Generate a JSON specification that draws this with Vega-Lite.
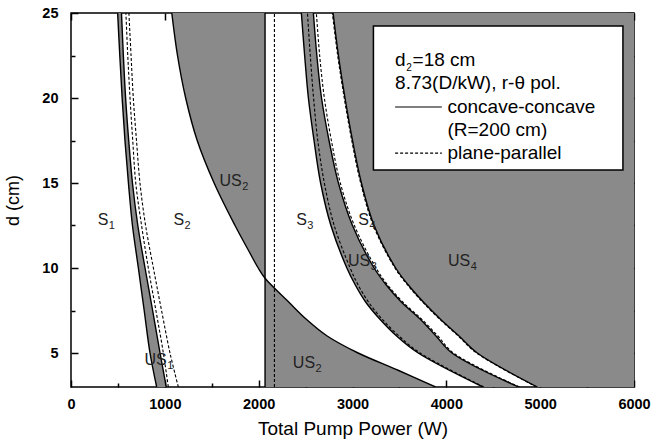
{
  "$schema": "https://vega.github.io/schema/vega-lite/v6.json",
  "width": 563,
  "height": 374,
  "autosize": {"type": "none"},
  "padding": {"left": 71, "top": 13, "right": 30, "bottom": 57},
  "background": "white",
  "config": {
    "view": {"stroke": "black", "strokeWidth": 1.5},
    "font": "Liberation Sans",
    "axis": {"grid": false}
  },
  "datasets": {
    "bands": [
      {"band": "US1", "y": 25, "xl": 497, "xr": 538},
      {"band": "US1", "y": 22.5, "xl": 520, "xr": 558},
      {"band": "US1", "y": 20, "xl": 545, "xr": 582},
      {"band": "US1", "y": 17.5, "xl": 575, "xr": 615},
      {"band": "US1", "y": 15, "xl": 612, "xr": 655},
      {"band": "US1", "y": 12.5, "xl": 655, "xr": 712},
      {"band": "US1", "y": 10, "xl": 718, "xr": 789},
      {"band": "US1", "y": 7.5, "xl": 780, "xr": 870},
      {"band": "US1", "y": 5, "xl": 842, "xr": 949},
      {"band": "US1", "y": 3, "xl": 913, "xr": 1015},
      {"band": "US2", "y": 25, "xl": 1074, "xr": 2068},
      {"band": "US2", "y": 22.5, "xl": 1135, "xr": 2068},
      {"band": "US2", "y": 20, "xl": 1222, "xr": 2068},
      {"band": "US2", "y": 17.5, "xl": 1345, "xr": 2068},
      {"band": "US2", "y": 15, "xl": 1525, "xr": 2068},
      {"band": "US2", "y": 12.5, "xl": 1748, "xr": 2068},
      {"band": "US2", "y": 11, "xl": 1895, "xr": 2068},
      {"band": "US2", "y": 10, "xl": 1995, "xr": 2068},
      {"band": "US2", "y": 9.4, "xl": 2068, "xr": 2068},
      {"band": "US2", "y": 8, "xl": 2320, "xr": 2068},
      {"band": "US2", "y": 7, "xl": 2505, "xr": 2068},
      {"band": "US2", "y": 6, "xl": 2730, "xr": 2068},
      {"band": "US2", "y": 5, "xl": 3060, "xr": 2068},
      {"band": "US2", "y": 4, "xl": 3480, "xr": 2068},
      {"band": "US2", "y": 3, "xl": 3885, "xr": 2068},
      {"band": "US3", "y": 25, "xl": 2455, "xr": 2583},
      {"band": "US3", "y": 22.5, "xl": 2490, "xr": 2620},
      {"band": "US3", "y": 20, "xl": 2530, "xr": 2670},
      {"band": "US3", "y": 17.5, "xl": 2590, "xr": 2750},
      {"band": "US3", "y": 15, "xl": 2660, "xr": 2850},
      {"band": "US3", "y": 12.5, "xl": 2770, "xr": 3000},
      {"band": "US3", "y": 10, "xl": 2940, "xr": 3230},
      {"band": "US3", "y": 9, "xl": 3030, "xr": 3360},
      {"band": "US3", "y": 8, "xl": 3140, "xr": 3520},
      {"band": "US3", "y": 7, "xl": 3290, "xr": 3720},
      {"band": "US3", "y": 6, "xl": 3470, "xr": 3890},
      {"band": "US3", "y": 5, "xl": 3700, "xr": 4060},
      {"band": "US3", "y": 3, "xl": 4390, "xr": 4770},
      {"band": "US4", "y": 25, "xl": 2793, "xr": 6000},
      {"band": "US4", "y": 22.5, "xl": 2850, "xr": 6000},
      {"band": "US4", "y": 20, "xl": 2920, "xr": 6000},
      {"band": "US4", "y": 17.5, "xl": 3000, "xr": 6000},
      {"band": "US4", "y": 15, "xl": 3095, "xr": 6000},
      {"band": "US4", "y": 12.5, "xl": 3230, "xr": 6000},
      {"band": "US4", "y": 10, "xl": 3460, "xr": 6000},
      {"band": "US4", "y": 9, "xl": 3595, "xr": 6000},
      {"band": "US4", "y": 8, "xl": 3755, "xr": 6000},
      {"band": "US4", "y": 7, "xl": 3935, "xr": 6000},
      {"band": "US4", "y": 6, "xl": 4135, "xr": 6000},
      {"band": "US4", "y": 5, "xl": 4330, "xr": 6000},
      {"band": "US4", "y": 3, "xl": 4970, "xr": 6000}
    ],
    "dashed": [
      {"c": "PA", "y": 25, "x": 585}, {"c": "PA", "y": 22.5, "x": 605}, {"c": "PA", "y": 20, "x": 629},
      {"c": "PA", "y": 17.5, "x": 658}, {"c": "PA", "y": 15, "x": 690}, {"c": "PA", "y": 12.5, "x": 752},
      {"c": "PA", "y": 10, "x": 824}, {"c": "PA", "y": 7.5, "x": 905}, {"c": "PA", "y": 5, "x": 984},
      {"c": "PA", "y": 3, "x": 1037},
      {"c": "PB", "y": 25, "x": 617}, {"c": "PB", "y": 22.5, "x": 640}, {"c": "PB", "y": 20, "x": 664},
      {"c": "PB", "y": 17.5, "x": 698}, {"c": "PB", "y": 15, "x": 735}, {"c": "PB", "y": 12.5, "x": 795},
      {"c": "PB", "y": 10, "x": 878}, {"c": "PB", "y": 7.5, "x": 965}, {"c": "PB", "y": 5, "x": 1055},
      {"c": "PB", "y": 3, "x": 1144},
      {"c": "PV", "y": 25, "x": 2168}, {"c": "PV", "y": 3, "x": 2168},
      {"c": "PL3", "y": 25, "x": 2520}, {"c": "PL3", "y": 22.5, "x": 2550}, {"c": "PL3", "y": 20, "x": 2585},
      {"c": "PL3", "y": 17.5, "x": 2630}, {"c": "PL3", "y": 15, "x": 2700}, {"c": "PL3", "y": 12.5, "x": 2805},
      {"c": "PL3", "y": 10, "x": 2975}, {"c": "PL3", "y": 9, "x": 3060}, {"c": "PL3", "y": 8, "x": 3170},
      {"c": "PL3", "y": 7, "x": 3315}, {"c": "PL3", "y": 6, "x": 3495}, {"c": "PL3", "y": 5, "x": 3720},
      {"c": "PL3", "y": 3, "x": 4400},
      {"c": "PR3", "y": 25, "x": 2615}, {"c": "PR3", "y": 22.5, "x": 2650}, {"c": "PR3", "y": 20, "x": 2700},
      {"c": "PR3", "y": 17.5, "x": 2775}, {"c": "PR3", "y": 15, "x": 2870}, {"c": "PR3", "y": 12.5, "x": 3020},
      {"c": "PR3", "y": 10, "x": 3250}, {"c": "PR3", "y": 9, "x": 3375}, {"c": "PR3", "y": 8, "x": 3535},
      {"c": "PR3", "y": 7, "x": 3735}, {"c": "PR3", "y": 6, "x": 3910}, {"c": "PR3", "y": 5, "x": 4075},
      {"c": "PR3", "y": 3, "x": 4780},
      {"c": "PE4", "y": 25, "x": 2785}, {"c": "PE4", "y": 22.5, "x": 2842}, {"c": "PE4", "y": 20, "x": 2912},
      {"c": "PE4", "y": 17.5, "x": 2992}, {"c": "PE4", "y": 15, "x": 3087}, {"c": "PE4", "y": 12.5, "x": 3222},
      {"c": "PE4", "y": 10, "x": 3452}, {"c": "PE4", "y": 9, "x": 3587}, {"c": "PE4", "y": 8, "x": 3747},
      {"c": "PE4", "y": 7, "x": 3927}, {"c": "PE4", "y": 6, "x": 4127}, {"c": "PE4", "y": 5, "x": 4322},
      {"c": "PE4", "y": 3, "x": 4962}
    ],
    "regions": [
      {"main": "S", "sub": "1", "x": 398, "y": 12.85},
      {"main": "S", "sub": "2", "x": 1205, "y": 12.85},
      {"main": "S", "sub": "3", "x": 2513, "y": 12.85},
      {"main": "S", "sub": "4", "x": 3175, "y": 12.85},
      {"main": "US", "sub": "2", "x": 1820, "y": 15.1},
      {"main": "US", "sub": "3", "x": 3188, "y": 10.4},
      {"main": "US", "sub": "4", "x": 4254, "y": 10.4},
      {"main": "US", "sub": "1", "x": 1020, "y": 4.6},
      {"main": "US", "sub": "2", "x": 2601, "y": 4.4}
    ]
  },
  "resolve": {"axis": {"x": "independent", "y": "independent"}},
  "layer": [
    {
      "data": {"name": "bands"},
      "mark": {"type": "area", "orient": "horizontal", "color": "#8a8a8a", "opacity": 1, "clip": true, "interpolate": "catmull-rom"},
      "encoding": {
        "y": {"field": "y", "type": "quantitative", "scale": {"domain": [3, 25], "nice": false, "zero": false},
          "axis": {"orient": "left", "values": [5, 10, 15, 20, 25], "ticks": false, "tickSize": 0, "domain": false,
            "labelFontSize": 14.5, "labelFontWeight": "bold", "labelColor": "black", "labelPadding": 13,
            "title": "d (cm)", "titleFontSize": 18, "titleFontWeight": "normal", "titleColor": "black", "titlePadding": 19}},
        "x": {"field": "xl", "type": "quantitative", "scale": {"domain": [0, 6000], "nice": false, "zero": false},
          "axis": {"orient": "bottom", "values": [0, 1000, 2000, 3000, 4000, 5000, 6000], "format": "d", "ticks": false, "tickSize": 0, "domain": false,
            "labelFontSize": 14.5, "labelFontWeight": "bold", "labelColor": "black", "labelPadding": 10, "labelFlush": false,
            "title": "Total Pump Power (W)", "titleFontSize": 19, "titleFontWeight": "normal", "titleColor": "black", "titlePadding": 9}},
        "x2": {"field": "xr"},
        "detail": {"field": "band"}
      }
    },
    {
      "data": {"name": "bands"},
      "mark": {"type": "line", "color": "black", "strokeWidth": 1.4, "clip": true, "interpolate": "catmull-rom"},
      "encoding": {
        "y": {"field": "y", "type": "quantitative", "scale": {"domain": [3, 25], "nice": false, "zero": false},
          "axis": {"orient": "left", "values": [5, 7.5, 10, 12.5, 15, 17.5, 20, 22.5, 25], "labels": false, "domain": false, "title": null,
            "tickColor": "black", "tickWidth": 1.5,
            "tickSize": {"condition": {"test": "datum.value % 5 === 0", "value": -7}, "value": -4}}},
        "x": {"field": "xl", "type": "quantitative", "scale": {"domain": [0, 6000], "nice": false, "zero": false},
          "axis": {"orient": "bottom", "values": [0, 500, 1000, 1500, 2000, 2500, 3000, 3500, 4000, 4500, 5000, 5500, 6000], "labels": false, "domain": false, "title": null,
            "tickColor": "black", "tickWidth": 1.5,
            "tickSize": {"condition": {"test": "datum.value % 1000 === 0", "value": -7}, "value": -4}}},
        "detail": {"field": "band"},
        "order": {"field": "y", "type": "quantitative"}
      }
    },
    {
      "data": {"name": "bands"},
      "transform": [{"filter": "datum.band !== 'US4'"}],
      "mark": {"type": "line", "color": "black", "strokeWidth": 1.4, "clip": true, "interpolate": "catmull-rom"},
      "encoding": {
        "y": {"field": "y", "type": "quantitative", "scale": {"domain": [3, 25], "nice": false, "zero": false},
          "axis": {"orient": "right", "values": [5, 7.5, 10, 12.5, 15, 17.5, 20, 22.5, 25], "labels": false, "domain": false, "title": null,
            "tickColor": "black", "tickWidth": 1.5,
            "tickSize": {"condition": {"test": "datum.value % 5 === 0", "value": -7}, "value": -4}}},
        "x": {"field": "xr", "type": "quantitative", "scale": {"domain": [0, 6000], "nice": false, "zero": false},
          "axis": {"orient": "top", "values": [0, 500, 1000, 1500, 2000, 2500, 3000, 3500, 4000, 4500, 5000, 5500, 6000], "labels": false, "domain": false, "title": null,
            "tickColor": "black", "tickWidth": 1.5,
            "tickSize": {"condition": {"test": "datum.value % 1000 === 0", "value": -7}, "value": -4}}},
        "detail": {"field": "band"},
        "order": {"field": "y", "type": "quantitative"}
      }
    },
    {
      "data": {"name": "dashed"},
      "mark": {"type": "line", "color": "black", "strokeWidth": 1.1, "strokeDash": [3, 2], "clip": true, "interpolate": "catmull-rom"},
      "encoding": {
        "y": {"field": "y", "type": "quantitative", "scale": {"domain": [3, 25], "nice": false, "zero": false}, "axis": null},
        "x": {"field": "x", "type": "quantitative", "scale": {"domain": [0, 6000], "nice": false, "zero": false}, "axis": null},
        "detail": {"field": "c"},
        "order": {"field": "y", "type": "quantitative"}
      }
    },
    {
      "data": {"name": "regions"},
      "mark": {"type": "text", "align": "right", "baseline": "middle", "fontSize": 16, "color": "#222"},
      "encoding": {
        "y": {"field": "y", "type": "quantitative", "axis": null},
        "x": {"field": "x", "type": "quantitative", "axis": null},
        "text": {"field": "main"}
      }
    },
    {
      "data": {"name": "regions"},
      "mark": {"type": "text", "align": "left", "baseline": "middle", "fontSize": 11, "dy": 6, "dx": 0.5, "color": "#222"},
      "encoding": {
        "y": {"field": "y", "type": "quantitative", "axis": null},
        "x": {"field": "x", "type": "quantitative", "axis": null},
        "text": {"field": "sub"}
      }
    },
    {
      "data": {"values": [{"x": 3223, "x2": 5882, "y": 24.24, "y2": 15.76}]},
      "mark": {"type": "rect", "fill": "white", "stroke": "black", "strokeWidth": 1.5},
      "encoding": {
        "x": {"field": "x", "type": "quantitative", "axis": null},
        "x2": {"field": "x2"},
        "y": {"field": "y", "type": "quantitative", "axis": null},
        "y2": {"field": "y2"}
      }
    },
    {
      "data": {"values": [
        {"t": "d", "x": 3454, "y": 22.24},
        {"t": "=18 cm", "x": 3640, "y": 22.24},
        {"t": "8.73(D/kW), r-θ pol.", "x": 3454, "y": 20.88},
        {"t": "concave-concave", "x": 4012, "y": 19.47},
        {"t": "(R=200 cm)", "x": 4012, "y": 18.12},
        {"t": "plane-parallel", "x": 4012, "y": 16.76}
      ]},
      "mark": {"type": "text", "align": "left", "baseline": "middle", "fontSize": 19, "color": "black"},
      "encoding": {
        "x": {"field": "x", "type": "quantitative", "axis": null},
        "y": {"field": "y", "type": "quantitative", "axis": null},
        "text": {"field": "t"}
      }
    },
    {
      "data": {"values": [{"t": "2", "x": 3572, "y": 22.24}]},
      "mark": {"type": "text", "align": "left", "baseline": "middle", "fontSize": 10, "dy": 8, "color": "black"},
      "encoding": {
        "x": {"field": "x", "type": "quantitative", "axis": null},
        "y": {"field": "y", "type": "quantitative", "axis": null},
        "text": {"field": "t"}
      }
    },
    {
      "data": {"values": [{"x": 3454, "x2": 3952, "y": 19.47, "kind": "solid"}]},
      "mark": {"type": "rule", "color": "black", "strokeWidth": 1.2},
      "encoding": {
        "x": {"field": "x", "type": "quantitative", "axis": null},
        "x2": {"field": "x2"},
        "y": {"field": "y", "type": "quantitative", "axis": null}
      }
    },
    {
      "data": {"values": [{"x": 3454, "x2": 3952, "y": 16.76, "kind": "dashed"}]},
      "mark": {"type": "rule", "color": "black", "strokeWidth": 1.1, "strokeDash": [3, 2]},
      "encoding": {
        "x": {"field": "x", "type": "quantitative", "axis": null},
        "x2": {"field": "x2"},
        "y": {"field": "y", "type": "quantitative", "axis": null}
      }
    }
  ]
}
